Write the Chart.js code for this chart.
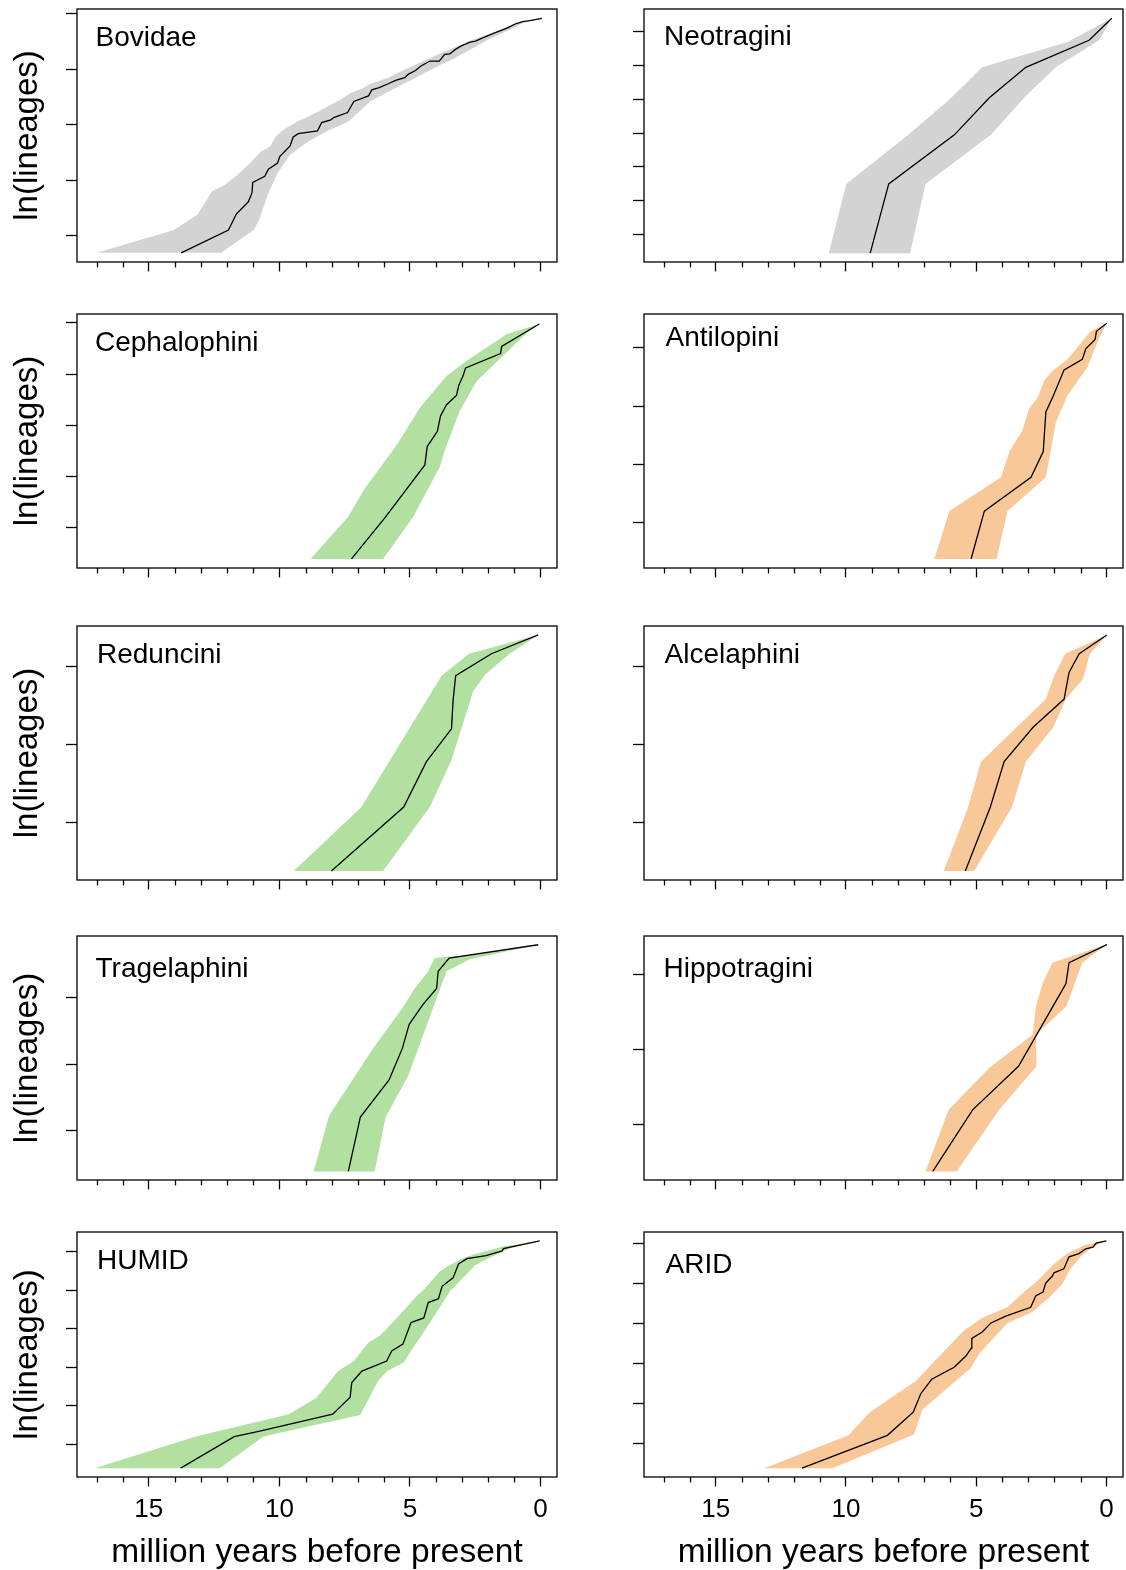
<!DOCTYPE html>
<html>
<head>
<meta charset="utf-8">
<script src="https://cdn.jsdelivr.net/npm/chart.js@4.4.1/dist/chart.umd.min.js"></script>
<style>
  body { margin: 0; background: #fff; }
  #wrap { position: relative; width: 1126px; height: 1570px; background: #fff; }
  #wrap canvas { position: absolute; }
</style>
</head>
<body>
<div id="wrap"></div>
<script>
// Lineage-through-time panels: median curve (black) and 95% band per clade
// x = million years before present, y = ln(lineages)

// ============================================
// DATA
// ============================================

const xTicks = [17, 16, 15, 14, 13, 12, 11, 10, 9, 8, 7, 6, 5, 4, 3, 2, 1, 0];
const xMajorTicks = [15, 10, 5, 0];
const xTickLabels = ['15', '10', '5', '0'];

// Bovidae (137 tips)
const bovidaeLineT = [13.76, 11.95, 11.65, 11.19, 11.05, 11.02, 10.56, 10.42, 10.07, 9.98, 9.59, 9.47, 9.28, 8.54, 8.38, 8.03, 7.92, 7.39, 7.15, 6.59, 6.46, 6.18, 5.83, 5.55, 5.20, 5.07, 4.79, 4.58, 4.23, 3.88, 3.67, 3.47, 3.26, 3.05, 2.70, 2.49, 2.15, 1.80, 1.31, 0.96, 0.68, 0.41, -0.05];
const bovidaeLineY = [0.69, 1.10, 1.39, 1.61, 1.77, 1.96, 2.07, 2.20, 2.31, 2.43, 2.62, 2.78, 2.84, 2.89, 3.04, 3.09, 3.13, 3.22, 3.42, 3.52, 3.63, 3.67, 3.74, 3.80, 3.85, 3.91, 3.98, 4.06, 4.15, 4.15, 4.27, 4.28, 4.36, 4.42, 4.49, 4.51, 4.58, 4.65, 4.74, 4.82, 4.86, 4.88, 4.92];
const bovidaeBandT = [16.99, 14.04, 13.13, 12.58, 12.09, 11.60, 11.12, 10.70, 10.35, 10.14, 9.93, 9.73, 9.31, 8.89, 8.47, 8.13, 7.71, 7.29, 6.80, 6.52, 5.83, 5.13, 4.44, 3.74, 3.12, 2.63, 1.80, 1.10, -0.05,
  0.68, 1.24, 2.07, 2.63, 3.33, 4.02, 4.86, 5.69, 6.52, 7.36, 8.20, 8.89, 9.59, 10.07, 10.42, 10.77, 10.98, 12.23];
const bovidaeBandY = [0.69, 1.10, 1.38, 1.80, 1.92, 2.10, 2.31, 2.52, 2.61, 2.79, 2.88, 2.94, 3.06, 3.15, 3.25, 3.34, 3.44, 3.57, 3.66, 3.74, 3.85, 4.01, 4.16, 4.31, 4.43, 4.53, 4.67, 4.80, 4.92,
  4.83, 4.70, 4.52, 4.37, 4.19, 4.04, 3.83, 3.63, 3.42, 3.06, 2.88, 2.70, 2.46, 2.13, 1.77, 1.29, 1.10, 0.69];
const bovidaeYTicks = [1, 2, 3, 4, 5];

// Neotragini (8 tips)
const neotraginiLineT = [9.07, 8.36, 5.84, 4.50, 3.10, 0.67, -0.20];
const neotraginiLineY = [0.69, 1.10, 1.39, 1.61, 1.79, 1.95, 2.08];
const neotraginiBandT = [10.66, 9.99, 7.69, 6.03, 4.78, 1.50, -0.20, 0.29, 1.95, 3.10, 4.44, 6.95, 7.54];
const neotraginiBandY = [0.69, 1.10, 1.38, 1.60, 1.79, 1.94, 2.08, 1.95, 1.79, 1.62, 1.39, 1.10, 0.69];
const neotraginiYTicks = [0.8, 1.0, 1.2, 1.4, 1.6, 1.8, 2.0];

// Cephalophini (20 tips)
const cephalophiniLineT = [7.24, 5.97, 4.43, 4.34, 3.95, 3.83, 3.60, 3.22, 3.13, 2.97, 2.87, 1.53, 1.49, 0.05];
const cephalophiniLineY = [0.69, 1.09, 1.61, 1.79, 1.94, 2.09, 2.20, 2.29, 2.39, 2.48, 2.56, 2.70, 2.77, 2.99];
const cephalophiniBandT = [8.81, 7.37, 6.73, 5.52, 4.62, 3.60, 2.77, 1.30, 0.05, 0.54, 1.43, 2.45, 3.09, 3.63, 3.86, 4.88, 6.03];
const cephalophiniBandY = [0.69, 1.10, 1.38, 1.80, 2.17, 2.48, 2.64, 2.89, 2.99, 2.90, 2.68, 2.43, 2.14, 1.78, 1.59, 1.10, 0.69];
const cephalophiniYTicks = [1.0, 1.5, 2.0, 2.5, 3.0];

// Antilopini (15 tips)
const antilopiniLineT = [5.20, 4.69, 2.90, 2.43, 2.33, 2.08, 1.63, 0.93, 0.80, 0.44, 0.39, -0.01];
const antilopiniLineY = [0.69, 1.10, 1.39, 1.61, 1.95, 2.07, 2.31, 2.40, 2.49, 2.57, 2.64, 2.71];
const antilopiniBandT = [6.61, 6.03, 4.05, 3.71, 3.23, 2.97, 2.65, 2.39, 2.08, 1.50, 0.61, -0.01, 0.29, 0.74, 1.50, 1.95, 2.33, 3.80, 4.22];
const antilopiniBandY = [0.69, 1.10, 1.39, 1.62, 1.79, 1.98, 2.07, 2.22, 2.30, 2.40, 2.64, 2.71, 2.58, 2.33, 2.09, 1.86, 1.39, 1.10, 0.69];
const antilopiniYTicks = [1.0, 1.5, 2.0, 2.5];

// Reduncini (9 tips)
const redunciniLineT = [8.01, 5.24, 4.37, 3.41, 3.35, 3.25, 1.88, 0.09];
const redunciniLineY = [0.69, 1.10, 1.39, 1.60, 1.78, 1.94, 2.08, 2.20];
const redunciniBandT = [9.45, 6.86, 3.79, 2.74, 0.09, 1.18, 2.10, 2.58, 3.41, 4.24, 6.03];
const redunciniBandY = [0.69, 1.10, 1.94, 2.08, 2.20, 2.08, 1.95, 1.84, 1.40, 1.10, 0.69];
const redunciniYTicks = [1.0, 1.5, 2.0];

// Alcelaphini (9 tips)
const alcelaphiniLineT = [5.42, 4.46, 3.93, 2.82, 1.63, 1.44, 1.05, -0.01];
const alcelaphiniLineY = [0.69, 1.10, 1.39, 1.61, 1.79, 1.96, 2.08, 2.20];
const alcelaphiniBandT = [6.25, 5.33, 4.82, 2.33, 2.01, 1.59, -0.01, 0.64, 0.90, 1.56, 2.05, 3.10, 3.63, 5.08];
const alcelaphiniBandY = [0.69, 1.09, 1.39, 1.79, 1.94, 2.08, 2.20, 2.08, 1.92, 1.79, 1.61, 1.39, 1.10, 0.69];
const alcelaphiniYTicks = [1.0, 1.5, 2.0];

// Tragelaphini (11 tips)
const tragelaphiniLineT = [7.36, 6.90, 5.80, 5.29, 5.03, 4.50, 3.98, 3.92, 3.50, 0.09];
const tragelaphiniLineY = [0.69, 1.10, 1.38, 1.62, 1.80, 1.95, 2.07, 2.20, 2.30, 2.40];
const tragelaphiniBandT = [8.69, 8.10, 6.41, 5.26, 4.82, 4.33, 4.05, 2.84, 0.09, 2.71, 3.60, 5.07, 5.93, 6.35];
const tragelaphiniBandY = [0.69, 1.11, 1.62, 1.93, 2.07, 2.19, 2.30, 2.32, 2.40, 2.29, 2.20, 1.41, 1.10, 0.69];
const tragelaphiniYTicks = [1.0, 1.5, 2.0];

// Hippotragini (9 tips)
const hippotraginiLineT = [6.67, 5.14, 3.38, 1.56, 1.44, -0.01];
const hippotraginiLineY = [0.69, 1.10, 1.39, 1.94, 2.08, 2.20];
const hippotraginiBandT = [6.95, 6.06, 4.50, 2.84, 2.71, 2.46, 2.08, -0.01, 0.93, 1.54, 2.71, 2.69, 4.12, 5.75];
const hippotraginiBandY = [0.69, 1.10, 1.38, 1.60, 1.79, 1.94, 2.08, 2.20, 2.08, 1.79, 1.60, 1.39, 1.10, 0.69];
const hippotraginiYTicks = [1.0, 1.5, 2.0];

// HUMID (38 tips)
const humidLineT = [13.78, 11.73, 10.75, 7.96, 7.29, 7.23, 6.84, 5.89, 5.70, 5.27, 4.96, 4.47, 4.30, 3.91, 3.77, 3.35, 3.14, 2.91, 2.82, 2.09, 1.47, 1.42, 0.03];
const humidLineY = [0.69, 1.10, 1.17, 1.39, 1.61, 1.80, 1.95, 2.08, 2.21, 2.30, 2.58, 2.64, 2.84, 2.89, 3.05, 3.16, 3.34, 3.39, 3.41, 3.45, 3.51, 3.54, 3.64];
const humidBandT = [17.07, 13.20, 9.64, 8.59, 7.75, 7.15, 6.59, 6.15, 5.45, 4.75, 4.47, 3.84, 3.56, 2.93, 2.51, 1.40, 0.03,
  1.12, 2.09, 2.51, 3.46, 3.84, 4.54, 4.89, 5.24, 5.87, 6.22, 6.91, 10.61, 12.29];
const humidBandY = [0.69, 1.10, 1.39, 1.60, 1.95, 2.08, 2.32, 2.41, 2.66, 2.92, 3.01, 3.25, 3.31, 3.42, 3.47, 3.57, 3.64,
  3.55, 3.40, 3.32, 2.99, 2.79, 2.42, 2.25, 2.06, 1.95, 1.82, 1.38, 1.10, 0.69];
const humidYTicks = [1.0, 1.5, 2.0, 2.5, 3.0, 3.5];

// ARID (34 tips)
const aridLineT = [11.69, 8.41, 7.42, 7.13, 6.71, 5.85, 5.40, 5.19, 5.17, 4.77, 4.45, 3.87, 2.91, 2.72, 2.44, 2.34, 2.08, 2.02, 1.64, 1.44, 1.06, 0.80, 0.52, 0.40, 0.01];
const aridLineY = [0.69, 1.10, 1.39, 1.62, 1.80, 1.95, 2.09, 2.19, 2.31, 2.39, 2.50, 2.59, 2.70, 2.84, 2.89, 3.00, 3.09, 3.13, 3.18, 3.33, 3.37, 3.43, 3.45, 3.50, 3.53];
const aridBandT = [13.14, 9.90, 9.09, 7.32, 6.45, 5.47, 4.77, 3.81, 3.17, 2.72, 2.02, 1.51, 0.80, 0.01,
  0.55, 1.00, 1.38, 1.70, 2.21, 2.85, 3.81, 4.89, 5.21, 7.07, 7.39, 10.52];
const aridBandY = [0.69, 1.10, 1.39, 1.78, 2.08, 2.41, 2.57, 2.70, 2.89, 3.01, 3.24, 3.37, 3.48, 3.53,
  3.45, 3.33, 3.18, 2.99, 2.82, 2.64, 2.50, 2.12, 1.94, 1.42, 1.11, 0.69];
const aridYTicks = [1.0, 1.5, 2.0, 2.5, 3.0, 3.5];

// ============================================
// LAYOUT
// ============================================

const FONT = '"Liberation Sans", Arial, Helvetica, sans-serif';
const GRAY = '#d3d3d3';
const GREEN = 'rgb(177, 224, 160)';
const ORANGE = 'rgb(249, 200, 153)';

const X_MIN = -0.63;
const X_MAX = 17.75;
const PAGE_H = 1570;

// plot boxes (page px)
const rowBoxes = [[9, 262], [314, 568], [626, 880], [936, 1180], [1232, 1477]];
const colBoxes = [
  { canvasLeft: 0, width: 566, boxLeft: 77, boxRight: 557 },
  { canvasLeft: 580, width: 546, boxLeft: 644, boxRight: 1123 }
];

const panels = [
  { label: 'Bovidae', row: 0, col: 0, tips: 137, color: GRAY, lineT: bovidaeLineT, lineY: bovidaeLineY, bandT: bovidaeBandT, bandY: bovidaeBandY, yTicks: bovidaeYTicks, dx: 18.5, dy: 36.7 },
  { label: 'Neotragini', row: 0, col: 1, tips: 8, color: GRAY, lineT: neotraginiLineT, lineY: neotraginiLineY, bandT: neotraginiBandT, bandY: neotraginiBandY, yTicks: neotraginiYTicks, dx: 20, dy: 36 },
  { label: 'Cephalophini', row: 1, col: 0, tips: 20, color: GREEN, lineT: cephalophiniLineT, lineY: cephalophiniLineY, bandT: cephalophiniBandT, bandY: cephalophiniBandY, yTicks: cephalophiniYTicks, dx: 18, dy: 37 },
  { label: 'Antilopini', row: 1, col: 1, tips: 15, color: ORANGE, lineT: antilopiniLineT, lineY: antilopiniLineY, bandT: antilopiniBandT, bandY: antilopiniBandY, yTicks: antilopiniYTicks, dx: 21.5, dy: 32 },
  { label: 'Reduncini', row: 2, col: 0, tips: 9, color: GREEN, lineT: redunciniLineT, lineY: redunciniLineY, bandT: redunciniBandT, bandY: redunciniBandY, yTicks: redunciniYTicks, dx: 20, dy: 37 },
  { label: 'Alcelaphini', row: 2, col: 1, tips: 9, color: ORANGE, lineT: alcelaphiniLineT, lineY: alcelaphiniLineY, bandT: alcelaphiniBandT, bandY: alcelaphiniBandY, yTicks: alcelaphiniYTicks, dx: 20.5, dy: 37 },
  { label: 'Tragelaphini', row: 3, col: 0, tips: 11, color: GREEN, lineT: tragelaphiniLineT, lineY: tragelaphiniLineY, bandT: tragelaphiniBandT, bandY: tragelaphiniBandY, yTicks: tragelaphiniYTicks, dx: 18.5, dy: 41 },
  { label: 'Hippotragini', row: 3, col: 1, tips: 9, color: ORANGE, lineT: hippotraginiLineT, lineY: hippotraginiLineY, bandT: hippotraginiBandT, bandY: hippotraginiBandY, yTicks: hippotraginiYTicks, dx: 19.5, dy: 41 },
  { label: 'HUMID', row: 4, col: 0, tips: 38, color: GREEN, lineT: humidLineT, lineY: humidLineY, bandT: humidBandT, bandY: humidBandY, yTicks: humidYTicks, dx: 20, dy: 37 },
  { label: 'ARID', row: 4, col: 1, tips: 34, color: ORANGE, lineT: aridLineT, lineY: aridLineY, bandT: aridBandT, bandY: aridBandY, yTicks: aridYTicks, dx: 21.5, dy: 40.5 }
];

// ============================================
// PLUGINS
// ============================================

// full box round the plot region (R bty = "o")
const boxPlugin = {
  id: 'box',
  afterDraw(chart) {
    const { ctx, chartArea: a } = chart;
    ctx.save();
    ctx.strokeStyle = '#000';
    ctx.lineWidth = 1.3;
    ctx.strokeRect(a.left, a.top, a.right - a.left, a.bottom - a.top);
    ctx.restore();
  }
};

// short ticks between the labelled ones
const minorTickPlugin = {
  id: 'minorTicks',
  afterDraw(chart) {
    const xs = chart.scales.x;
    const ctx = chart.ctx;
    ctx.save();
    ctx.strokeStyle = '#000';
    ctx.lineWidth = 1.3;
    xs.ticks.forEach(t => {
      if (xMajorTicks.includes(t.value)) return;
      const px = Math.round(xs.getPixelForValue(t.value)) + 0.5;
      ctx.beginPath();
      ctx.moveTo(px, xs.top);
      ctx.lineTo(px, xs.top + 5.4);
      ctx.stroke();
    });
    ctx.restore();
  }
};

// clade name in the upper-left corner
const panelLabelPlugin = {
  id: 'panelLabel',
  afterDraw(chart, args, opts) {
    const { ctx, chartArea: a } = chart;
    ctx.save();
    ctx.fillStyle = '#000';
    ctx.font = '28px ' + FONT;
    ctx.textAlign = 'left';
    ctx.textBaseline = 'alphabetic';
    ctx.fillText(opts.text, a.left + opts.dx, a.top + opts.dy);
    ctx.restore();
  }
};

// ============================================
// CHART CREATION
// ============================================

function toPoints(ts, ys) {
  return ts.map((t, i) => ({ x: t, y: ys[i] }));
}

function createPanel(p) {
  const wrap = document.getElementById('wrap');
  const col = colBoxes[p.col];
  const [boxTop, boxBottom] = rowBoxes[p.row];
  const bottomRow = p.row === rowBoxes.length - 1;
  const leftCol = p.col === 0;

  const canvasTop = boxTop - 8;
  const canvasBottom = bottomRow ? PAGE_H : boxBottom + 22;

  const canvas = document.createElement('canvas');
  canvas.width = col.width;
  canvas.height = canvasBottom - canvasTop;
  canvas.style.left = col.canvasLeft + 'px';
  canvas.style.top = canvasTop + 'px';
  wrap.appendChild(canvas);

  // y range as R pads it: 4% beyond ln(2) .. ln(tips)
  const lo = Math.log(2);
  const hi = Math.log(p.tips);
  const pad = 0.04 * (hi - lo);

  return new Chart(canvas, {
    type: 'scatter',
    data: {
      datasets: [
        {
          data: toPoints(p.lineT, p.lineY),
          showLine: true,
          borderColor: '#000',
          borderWidth: 1.3,
          pointRadius: 0,
          tension: 0,
          fill: false,
          order: 0
        },
        {
          data: toPoints(p.bandT, p.bandY),
          showLine: true,
          borderColor: 'rgba(0,0,0,0)',
          borderWidth: 0,
          backgroundColor: p.color,
          pointRadius: 0,
          tension: 0,
          fill: 'shape',
          order: 1
        }
      ]
    },
    options: {
      responsive: false,
      animation: false,
      events: [],
      layout: {
        padding: { top: 8, right: col.canvasLeft + col.width - col.boxRight, bottom: 0, left: 0 }
      },
      plugins: {
        legend: { display: false },
        tooltip: { enabled: false },
        panelLabel: { text: p.label, dx: p.dx, dy: p.dy }
      },
      scales: {
        x: {
          type: 'linear',
          reverse: true,
          min: X_MIN,
          max: X_MAX,
          afterBuildTicks: s => { s.ticks = xTicks.map(v => ({ value: v })); },
          afterFit: s => { s.height = canvasBottom - boxBottom; },
          border: { display: false },
          grid: {
            drawOnChartArea: false,
            drawTicks: true,
            tickLength: 9.4,
            tickWidth: 1.3,
            tickColor: c => (c.tick && xMajorTicks.includes(c.tick.value)) ? '#000' : 'rgba(0,0,0,0)'
          },
          ticks: {
            display: bottomRow,
            autoSkip: false,
            maxRotation: 0,
            minRotation: 0,
            padding: 8,
            color: '#000',
            font: { family: FONT, size: 26 },
            callback: v => {
              const i = xMajorTicks.indexOf(v);
              return i >= 0 ? xTickLabels[i] : '';
            }
          },
          title: {
            display: bottomRow,
            text: 'million years before present',
            color: '#000',
            font: { family: FONT, size: 33.5, lineHeight: 1.05 },
            padding: { top: 0, bottom: 0 }
          }
        },
        y: {
          type: 'linear',
          min: lo - pad,
          max: hi + pad,
          afterBuildTicks: s => { s.ticks = p.yTicks.map(v => ({ value: v })); },
          afterFit: s => { s.width = col.boxLeft - col.canvasLeft; },
          border: { display: false },
          grid: {
            drawOnChartArea: false,
            drawTicks: true,
            tickLength: 11,
            tickWidth: 1.3,
            tickColor: '#000'
          },
          ticks: { display: false },
          title: {
            display: leftCol,
            text: 'ln(lineages)',
            color: '#000',
            font: { family: FONT, size: 33 },
            padding: { top: 8, bottom: 0 }
          }
        }
      }
    },
    plugins: [boxPlugin, minorTickPlugin, panelLabelPlugin]
  });
}

panels.forEach(createPanel);
</script>
</body>
</html>
